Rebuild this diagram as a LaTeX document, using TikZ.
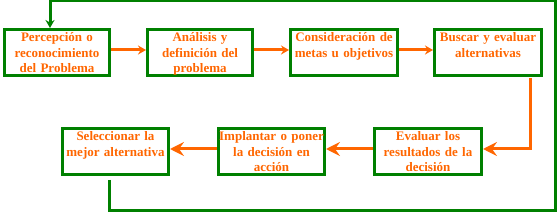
\documentclass[tikz,border=0pt]{standalone}
\usepackage{fontspec}
\setmainfont{Liberation Serif}
\usetikzlibrary{arrows.meta,positioning}

\definecolor{boxgreen}{HTML}{008000}
\definecolor{textorange}{HTML}{FF6600}

\begin{document}
\begin{tikzpicture}[
    stage/.style={draw=boxgreen, line width=3pt, inner sep=0pt, align=center,
      text width=105pt, text height=12.5pt, text depth=33.5pt,
      text=textorange, font=\fontsize{13}{15.5}\selectfont\bfseries},
    flow/.style={draw=textorange, line width=3pt, -{Stealth[length=8pt,width=9pt]}},
    bigflow/.style={flow, -{Stealth[length=14pt,width=14pt,inset=5pt]}},
    feedback/.style={draw=boxgreen, line width=3pt, -{Stealth[length=8pt,width=9pt]}}
  ]
    \useasboundingbox (0,0) rectangle (557pt,-213pt);
    % upper row
    \node[stage] (perc) at (57pt,-52.5pt) {Percepción o\\reconocimiento\\del Problema};
    \node[stage, right=35pt of perc] (anal) {Análisis y\\definición del\\problema};
    \node[stage, right=35pt of anal, text width=107pt] (metas) {Consideración de\\metas u objetivos};
    \node[stage, right=34pt of metas, text width=107pt] (buscar) {Buscar y evaluar\\alternativas};
    % lower row
    \node[stage, below=50pt of buscar, xshift=-60pt, text width=107pt] (evaluar) {Evaluar los\\resultados de la\\decisión};
    \node[stage, left=47pt of evaluar, text width=106pt] (implantar) {Implantar o poner\\la decisión en\\acción};
    \node[stage, left=47pt of implantar, text width=106pt] (sel) {Seleccionar la\\mejor alternativa};
    \draw[flow] ([yshift=2.5pt]perc.east) -- ([yshift=2.5pt]anal.west);
    \draw[flow] ([yshift=2.5pt]anal.east) -- ([yshift=2.5pt]metas.west);
    \draw[flow] ([yshift=2.5pt]metas.east) -- ([yshift=2.5pt]buscar.west);
    \draw[bigflow] ([xshift=-12.5pt,yshift=-1pt]buscar.south east) |- ([yshift=2.5pt]evaluar.east);
    \draw[bigflow] ([yshift=2.5pt]evaluar.west) -- ([yshift=2.5pt]implantar.east);
    \draw[bigflow] ([yshift=2.5pt]implantar.west) -- ([yshift=2.5pt]sel.east);
    % back to the start
    \coordinate[below=35pt of sel.south, xshift=-6.5pt] (fbLow);
    \coordinate[right=12.5pt of buscar.east] (fbRight);
    \coordinate[above=27.5pt of perc.north, xshift=-7pt] (fbTop);
    \draw[feedback] ([xshift=-6.5pt,yshift=-4pt]sel.south) -- (fbLow) -| (fbRight) |- (fbTop) -- ([xshift=-7pt]perc.north);
\end{tikzpicture}
\end{document}
